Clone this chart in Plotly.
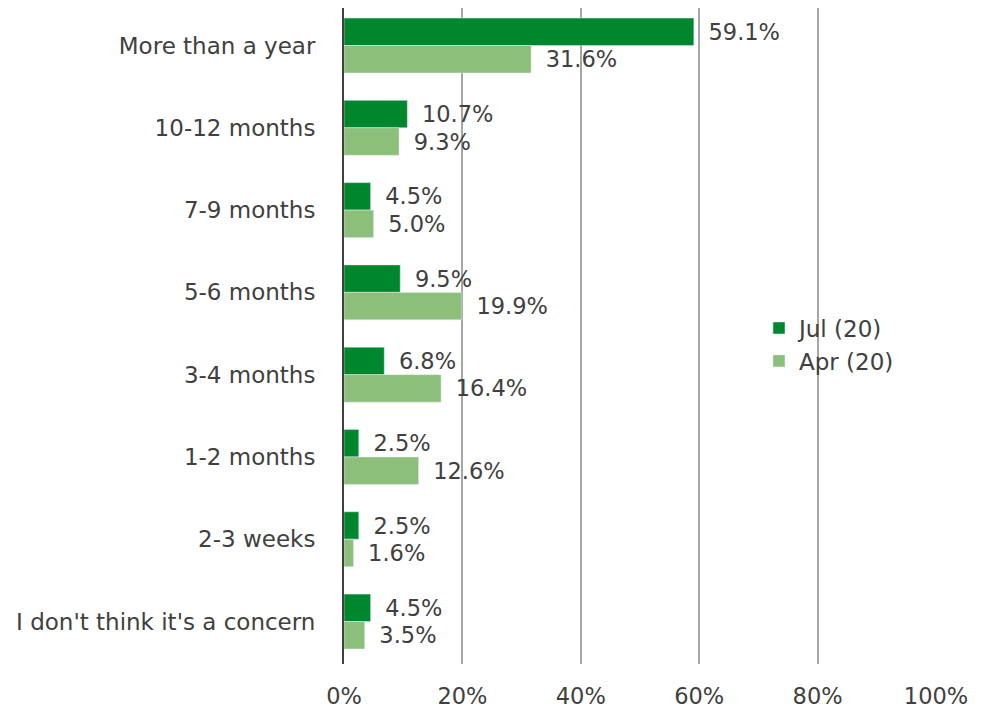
import plotly.graph_objects as go

categories = ["More than a year", "10-12 months", "7-9 months", "5-6 months",
              "3-4 months", "1-2 months", "2-3 weeks", "I don't think it's a concern"]
jul_20 = [0.591, 0.107, 0.045, 0.095, 0.068, 0.025, 0.025, 0.045]
apr_20 = [0.316, 0.093, 0.050, 0.199, 0.164, 0.126, 0.016, 0.035]
tick_vals = [0, 0.2, 0.4, 0.6, 0.8, 1.0]
tick_text = ["0%", "20%", "40%", "60%", "80%", "100%"]

txt = "#404040"
fnt = "DejaVu Sans"
lbl = "\u00a0\u2009%{x:.1%}"

fig = go.Figure()
fig.add_trace(go.Bar(y=categories, x=jul_20, name="Jul (20)", orientation="h",
                     marker_color="#00872E",
                     texttemplate=lbl, textposition="outside",
                     textfont=dict(size=22.5, color=txt),
                     cliponaxis=False))
fig.add_trace(go.Bar(y=categories, x=apr_20, name="Apr (20)", orientation="h",
                     marker_color="#8CBF7A",
                     texttemplate=lbl, textposition="outside",
                     textfont=dict(size=22.5, color=txt),
                     cliponaxis=False))

fig.update_layout(
    width=990, height=714,
    barmode="group", bargap=0.332, bargroupgap=0,
    plot_bgcolor="white", paper_bgcolor="white",
    font=dict(family=fnt, size=22, color=txt),
    margin=dict(l=336, r=62, t=0, b=58),
    legend=dict(x=0.701, y=0.487, xanchor="left", yanchor="middle",
                font=dict(size=23, color=txt), bgcolor="rgba(0,0,0,0)"),
    xaxis=dict(range=[0, 1], tickvals=tick_vals, ticktext=tick_text,
               showgrid=True, gridcolor="#A6A6A6", gridwidth=1.5,
               zeroline=False, showline=False, ticks="",
               ticklabelstandoff=16,
               tickfont=dict(size=22.5, color=txt)),
    yaxis=dict(range=[7.516, -0.456], showline=True, linecolor="#404040",
               linewidth=2, ticks="", ticklabelstandoff=22,
               tickfont=dict(size=23, color=txt)),
)

fig.write_html("out.html")
